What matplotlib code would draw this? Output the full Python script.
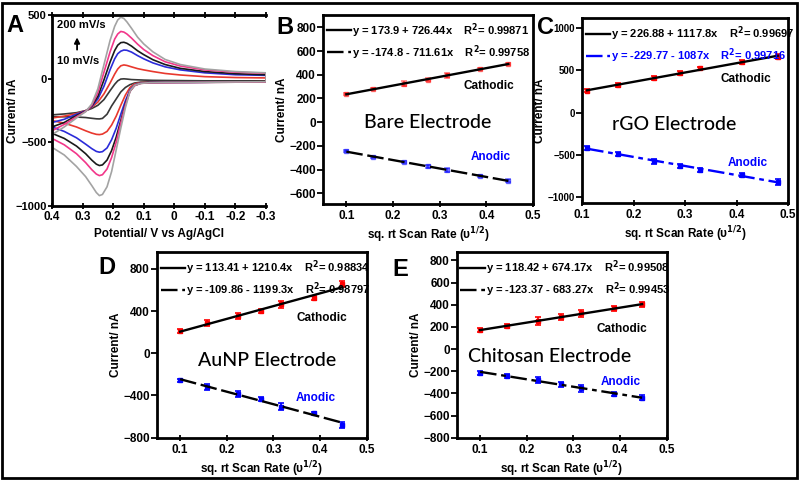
import numpy as np
import matplotlib
matplotlib.use("Agg")
import matplotlib.pyplot as plt
from matplotlib.patches import Rectangle

plt.rcParams['font.family'] = ['Liberation Sans', 'DejaVu Sans']
plt.rcParams['font.weight'] = 'bold'
plt.rcParams['axes.labelweight'] = 'bold'

# ---------------- panel A: cyclic voltammograms ----------------
E_up = [0.40, 0.36, 0.32, 0.29, 0.27, 0.25, 0.23, 0.21, 0.195, 0.185, 0.175,
        0.165, 0.155, 0.14, 0.12, 0.10, 0.07, 0.03, -0.02, -0.1, -0.2, -0.3]
E_lo = [0.40, 0.36, 0.32, 0.29, 0.27, 0.255, 0.245, 0.235, 0.22, 0.205, 0.19,
        0.175, 0.16, 0.145, 0.13, 0.11, 0.08, 0.03, -0.05, -0.15, -0.3]

cv_colors = ['#383838', '#e8382e', '#2b2bd9', '#1a1a1a', '#f2378a', '#a3a3a3']

up_10 = [-285, -278, -268, -252, -235, -210, -165, -95, -45, -18, -4, -2, -4, -8, -10, -12, -14, -15, -16, -18, -20, -20]
up_r = [-310, -295, -275, -252, -225, -185, -120, -35, 35, 75, 100, 107, 103, 92, 78, 68, 55, 40, 28, 15, 8, 5]
up_b = [-345, -320, -280, -254, -220, -160, -60, 70, 155, 195, 215, 224, 222, 208, 180, 155, 123, 92, 68, 45, 30, 25]
up_k = [-380, -345, -290, -256, -215, -140, -10, 130, 220, 262, 282, 285, 277, 255, 218, 188, 148, 110, 80, 55, 38, 30]
up_m = [-410, -360, -300, -258, -210, -110, 50, 210, 310, 350, 370, 365, 350, 318, 270, 228, 180, 132, 98, 68, 50, 42]
up_200 = [-440, -380, -310, -260, -200, -80, 110, 300, 410, 460, 482, 472, 445, 395, 325, 272, 210, 150, 110, 75, 55, 45]

lo_10 = [-300, -300, -302, -306, -312, -316, -317, -313, -280, -215, -160, -105, -70, -48, -35, -28, -26, -25, -25, -24, -22]
lo_r = [-330, -350, -380, -410, -428, -438, -440, -436, -415, -365, -295, -210, -130, -70, -42, -32, -30, -29, -28, -27, -25]
lo_b = [-380, -415, -465, -515, -550, -572, -578, -574, -545, -480, -390, -280, -175, -90, -50, -35, -31, -30, -30, -28, -26]
lo_k = [-430, -470, -530, -590, -640, -672, -683, -678, -640, -565, -460, -330, -200, -100, -55, -37, -32, -31, -30, -29, -27]
lo_m = [-470, -520, -590, -660, -715, -750, -762, -755, -710, -620, -500, -350, -210, -100, -55, -38, -33, -32, -31, -29, -27]
lo_200 = [-540, -600, -690, -770, -840, -895, -919, -910, -850, -730, -560, -390, -230, -100, -52, -38, -32, -30, -30, -28, -25]

cv_up = [up_10, up_r, up_b, up_k, up_m, up_200]
cv_lo = [lo_10, lo_r, lo_b, lo_k, lo_m, lo_200]

# ---------------- panels B-E: peak current vs sqrt(scan rate) ----------------
x_std = [0.1, 0.158, 0.224, 0.274, 0.316, 0.387, 0.447]
x_rgo = [0.11, 0.17, 0.24, 0.29, 0.33, 0.41, 0.48]

bare_cat = [234, 281, 326, 360, 394, 450, 489]
bare_cat_err = [8, 10, 20, 10, 18, 10, 10]
bare_ano = [-245, -295, -334, -371, -405, -455, -492]
bare_ano_err = [10, 8, 10, 12, 15, 10, 10]

rgo_cat = [259, 327, 406, 473, 525, 596, 663]
rgo_cat_err = [20, 18, 25, 22, 18, 25, 30]
rgo_ano = [-418, -493, -576, -635, -683, -742, -822]
rgo_ano_err = [25, 20, 30, 25, 20, 25, 35]

aunp_cat = [210, 285, 355, 400, 465, 525, 655]
aunp_cat_err = [20, 28, 30, 22, 35, 22, 30]
aunp_ano = [-255, -320, -390, -430, -505, -570, -680]
aunp_ano_err = [15, 25, 28, 20, 30, 15, 25]

chit_cat = [171, 210, 252, 288, 321, 366, 402]
chit_cat_err = [15, 20, 35, 25, 30, 20, 25]
chit_ano = [-213, -243, -279, -318, -354, -405, -438]
chit_ano_err = [18, 15, 25, 20, 30, 20, 25]

bare_eq = ["y = 173.9 + 726.44x    R$^2$= 0.99871", "y = -174.8 - 711.61x    R$^2$= 0.99758"]
rgo_eq = ["y = 226.88 + 1117.8x    R$^2$= 0.99697", "y = -229.77 - 1087x    R$^2$= 0.99716"]
aunp_eq = ["y = 113.41 + 1210.4x    R$^2$= 0.98834", "y = -109.86 - 1199.3x    R$^2$= 0.98797"]
chit_eq = ["y = 118.42 + 674.17x    R$^2$= 0.99508", "y = -123.37 - 683.27x    R$^2$= 0.99453"]


fig = plt.figure(figsize=(8, 4.8), dpi=100)
fig.add_artist(Rectangle((0.003, 0.004), 0.993, 0.99, transform=fig.transFigure,
                         fill=False, lw=2, ec='k'))

# panel A
axA = fig.add_axes([0.065, 0.571, 0.2675, 0.398])
for up, lo, c in zip(cv_up, cv_lo, cv_colors):
    axA.plot(E_lo + E_up[::-1], lo + up[::-1], color=c, lw=1.2)
axA.set_xlim(0.4, -0.3)
axA.set_ylim(-1000, 500)
axA.set_xticks([0.4, 0.3, 0.2, 0.1, 0, -0.1, -0.2, -0.3])
axA.set_xticklabels(['0.4', '0.3', '0.2', '0.1', '0', '-0.1', '-0.2', '-0.3'])
axA.set_yticks([-1000, -500, 0, 500])
axA.spines['right'].set_visible(False)
for s in ['left', 'bottom', 'top']:
    axA.spines[s].set_linewidth(2)
axA.tick_params(axis='x', direction='inout', top=True, length=5, width=1.3, labelsize=8.5, pad=1)
axA.tick_params(axis='y', direction='out', length=3, width=1.3, labelsize=8, pad=1)
axA.set_xlabel("Potential/ V vs Ag/AgCl", fontsize=8.5, labelpad=4)
axA.set_ylabel("Current/ nA", fontsize=8.5)
axA.yaxis.set_label_coords(-0.155, 0.5)
axA.text(0.385, 420, "200 mV/s", fontsize=8, va='center')
axA.text(0.385, 140, "10 mV/s", fontsize=8, va='center')
axA.annotate("", xy=(0.318, 345), xytext=(0.318, 205),
             arrowprops=dict(arrowstyle='-|>', color='k', lw=1.3, mutation_scale=8))


def rate_panel(rect, x, cat, cat_err, ano, ano_err, eqs, ylim, yticks, xlim,
               name, name_xy, cath_xy, ano_xy, ano_color, ano_dash,
               ebar_alpha=1.0, ytick_size=8.5):
    ax = fig.add_axes(rect)
    ax.errorbar(x, cat, yerr=cat_err, fmt='s', ms=2.5, color='red', ecolor='red',
                elinewidth=1.3, capsize=2, capthick=1.2, alpha=ebar_alpha, zorder=3)
    ax.errorbar(x, ano, yerr=ano_err, fmt='s', ms=2.5, color='blue', ecolor='blue',
                elinewidth=1.3, capsize=2, capthick=1.2, alpha=ebar_alpha, zorder=3)
    xs = np.array([x[0], x[-1]])
    c1 = np.polyfit(x, cat, 1)
    c2 = np.polyfit(x, ano, 1)
    l1, = ax.plot(xs, np.polyval(c1, xs), color='k', lw=1.7, zorder=4)
    l2, = ax.plot(xs, np.polyval(c2, xs), color=ano_color, lw=1.7, ls=ano_dash, zorder=4)
    leg = ax.legend([l1, l2], eqs, loc='upper left', bbox_to_anchor=(-0.03, 1.02),
                    frameon=False, handlelength=2.2, handletextpad=0.1,
                    labelspacing=0.3, fontsize=8)
    leg.get_texts()[1].set_color(ano_color)
    ax.set_xlim(*xlim)
    ax.set_ylim(*ylim)
    ax.set_xticks([0.1, 0.2, 0.3, 0.4, 0.5])
    ax.set_yticks(yticks)
    for s in ax.spines.values():
        s.set_linewidth(2)
    ax.tick_params(axis='x', direction='inout', length=5, width=1.3, labelsize=8.5, pad=2)
    ax.tick_params(axis='y', direction='out', length=4, width=1.3, labelsize=ytick_size, pad=1)
    ax.set_xlabel("sq. rt Scan Rate (υ$^{1/2}$)", fontsize=8.5, labelpad=2)
    ax.set_ylabel("Current/ nA", fontsize=8.5, labelpad=1)
    ax.text(name_xy[0], name_xy[1], name, fontsize=14, family='Lato',
            fontweight='medium', ha='center', va='center')
    ax.text(cath_xy[0], cath_xy[1], "Cathodic", fontsize=8.5, ha='center', va='center')
    ax.text(ano_xy[0], ano_xy[1], "Anodic", fontsize=8.5, color='blue',
            ha='center', va='center')
    return ax


dash_long = (0, (7, 2))
dash_dot = (0, (7, 2, 2, 2))

rate_panel([0.4038, 0.575, 0.2625, 0.394], x_std, bare_cat, bare_cat_err,
           bare_ano, bare_ano_err, bare_eq, (-690, 905), range(-600, 801, 200),
           (0.05, 0.5), "Bare Electrode", (0.275, 0), (0.406, 309), (0.41, -295),
           'k', dash_long, ebar_alpha=0.5)
rate_panel([0.7275, 0.577, 0.2575, 0.385], x_rgo, rgo_cat, rgo_cat_err,
           rgo_ano, rgo_ano_err, rgo_eq, (-1075, 1120), [-1000, -500, 0, 500, 1000],
           (0.1, 0.5), "rGO Electrode", (0.279, -137), (0.419, 394), (0.421, -603),
           'blue', dash_dot, ytick_size=7)
rate_panel([0.196, 0.0875, 0.2625, 0.3875], x_std, aunp_cat, aunp_cat_err,
           aunp_ano, aunp_ano_err, aunp_eq, (-803, 960), [-800, -400, 0, 400, 800],
           (0.05, 0.5), "AuNP Electrode", (0.287, -70), (0.403, 333), (0.391, -428),
           'k', dash_long)
rate_panel([0.571, 0.0875, 0.2625, 0.3875], x_std, chit_cat, chit_cat_err,
           chit_ano, chit_ano_err, chit_eq, (-802, 875), range(-800, 801, 200),
           (0.05, 0.5), "Chitosan Electrode", (0.248, -69), (0.404, 177), (0.402, -295),
           'k', dash_dot)

# panel letters
for letter, px, py in [("A", 15, 25), ("B", 285, 28), ("C", 546, 28),
                       ("D", 107, 267), ("E", 400, 270)]:
    fig.text(px / 800, 1 - py / 480, letter, fontsize=17, fontweight='bold',
             ha='center', va='center')

fig.savefig("out.png", dpi=100)
